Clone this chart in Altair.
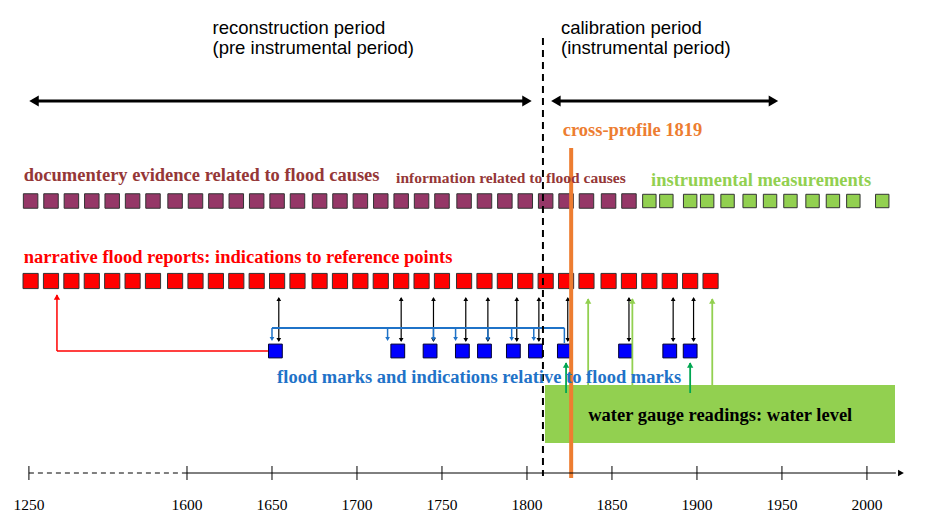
import pandas as pd
import altair as alt

# x in years (1250 is drawn at a compressed position), y in layout units from the top
X0, X1 = 1494.7, 2041.8
SERIF = "Liberation Serif"
SANS = "Liberation Sans"

purple_years = [1508, 1520, 1532, 1544, 1556, 1568, 1580, 1593, 1605, 1617, 1629, 1641, 1653, 1665, 1678,
                1690, 1702, 1714, 1726, 1738, 1750, 1763, 1775, 1787, 1799, 1811, 1823, 1835, 1848, 1860]
green_years = [1872, 1882, 1896, 1906, 1918, 1931, 1943, 1955, 1968, 1980, 1992, 2009]
red_years = purple_years + [1872, 1884, 1896, 1908]
blue_years = [1652, 1724, 1743, 1762, 1775, 1792, 1805, 1822, 1858, 1884, 1896]
blue_heads = [1650, 1718, 1745, 1758, 1777, 1791, 1804]
light_green_arrows = [1836, 1862, 1909]
dark_green_arrows = [1823, 1896]
tick_years = [1507, 1600, 1650, 1700, 1750, 1800, 1850, 1900, 1950, 2000]
tick_labels = ["1250", "1600", "1650", "1700", "1750", "1800", "1850", "1900", "1950", "2000"]

ROW_PURPLE, ROW_RED, ROW_BLUE = 193, 273, 343
AXIS_Y = 465

xs = alt.Scale(domain=[X0, X1])
ys = alt.Scale(domain=[509, 0])
X = lambda f="x": alt.X(f"{f}:Q", scale=xs, axis=None)
Y = lambda f="y": alt.Y(f"{f}:Q", scale=ys, axis=None)


def squares(years, row, fill, stroke, size):
    df = pd.DataFrame({"x": years, "y": row})
    return alt.Chart(df).mark_square(size=size, filled=True, color=fill, stroke=stroke,
                                     strokeWidth=1, opacity=1).encode(x=X(), y=Y())


def rules(rows, color, width=1.5, dash=None):
    df = pd.DataFrame(rows, columns=["x", "x2", "y", "y2"])
    kw = dict(color=color, strokeWidth=width)
    if dash:
        kw["strokeDash"] = dash
    return alt.Chart(df).mark_rule(**kw).encode(x=X(), x2="x2:Q", y=Y(), y2="y2:Q")


def heads(rows, shape, color, size):
    df = pd.DataFrame(rows, columns=["x", "y"])
    return alt.Chart(df).mark_point(shape=shape, filled=True, color=color, size=size,
                                    opacity=1).encode(x=X(), y=Y())


def label(rows, color, size, font=SERIF, bold=True):
    df = pd.DataFrame(rows, columns=["x", "y", "t"])
    return alt.Chart(df).mark_text(align="left", baseline="middle", color=color, fontSize=size,
                                   font=font, fontWeight="bold" if bold else "normal").encode(
        x=X(), y=Y(), text="t:N")


layers = []
# green gauge box
box = pd.DataFrame({"x": [1810.6], "x2": [2016.5], "y": [377], "y2": [435]})
layers.append(alt.Chart(box).mark_rect(color="#92d050").encode(x=X(), x2="x2:Q", y=Y(), y2="y2:Q"))

# period arrows
layers.append(rules([(1510, 1800, 93, 93), (1817, 1945, 93, 93)], "black", 3))
layers.append(heads([(1510, 93), (1817, 93)], "triangle-left", "black", 120))
layers.append(heads([(1800, 93), (1945, 93)], "triangle-right", "black", 120))

# squares rows
layers.append(squares(purple_years, ROW_PURPLE, "#953767", "#333333", 210))
layers.append(squares(green_years, ROW_PURPLE, "#92d050", "#333333", 180))
layers.append(squares(red_years, ROW_RED, "#ff0000", "#333333", 230))

# black double arrows between red and blue rows
layers.append(rules([(v + 2, v + 2, ROW_RED + 17, ROW_BLUE - 10) for v in blue_years], "black", 1.2))
layers.append(heads([(v + 2, ROW_RED + 18) for v in blue_years], "triangle-up", "black", 22))
layers.append(heads([(v + 2, ROW_BLUE - 11) for v in blue_years], "triangle-down", "black", 22))

# blue bracket line with heads
layers.append(rules([(1650, 1822, 320, 320)], "#1f73c8", 1.8))
layers.append(rules([(v, v, 320, ROW_BLUE - 12) for v in blue_heads], "#1f73c8", 1.5))
layers.append(rules([(1822, 1822, 320, ROW_BLUE - 8)], "#1f73c8", 1.5))
layers.append(heads([(v, ROW_BLUE - 12) for v in blue_heads], "triangle-down", "#1f73c8", 22))

# red L-shaped arrow
layers.append(rules([(1523.5, 1647.6, ROW_BLUE, ROW_BLUE), (1523.5, 1523.5, ROW_BLUE, ROW_RED + 14)], "red", 1.5))
layers.append(heads([(1523.5, ROW_RED + 16)], "triangle-up", "red", 40))

layers.append(squares(blue_years, ROW_BLUE, "#0000ff", "#000033", 190))

# green arrows from gauge box
layers.append(rules([(v, v, 377, ROW_RED + 18) for v in light_green_arrows], "#92d050", 1.8))
layers.append(heads([(v, ROW_RED + 20) for v in light_green_arrows], "triangle-up", "#92d050", 40))
layers.append(rules([(v, v, 385, ROW_BLUE + 12) for v in dark_green_arrows], "#00a651", 1.8))
layers.append(heads([(v, ROW_BLUE + 14) for v in dark_green_arrows], "triangle-up", "#00a651", 40))

# period divider and cross-profile
layers.append(rules([(1809.4, 1809.4, 30, 468)], "black", 2, [7, 5]))
layers.append(rules([(1826, 1826, 140, 470)], "#ed7d31", 4))

# bottom time axis
layers.append(rules([(1507, 1600, AXIS_Y, AXIS_Y)], "black", 1, [5, 4]))
layers.append(rules([(1600, 2017, AXIS_Y, AXIS_Y)], "black", 1))
layers.append(heads([(2020, AXIS_Y)], "triangle-right", "black", 45))
layers.append(rules([(v, v, AXIS_Y - 7, AXIS_Y + 7) for v in tick_years], "black", 1))
ticks = pd.DataFrame({"x": tick_years, "y": 497, "t": tick_labels})
layers.append(alt.Chart(ticks).mark_text(align="center", baseline="middle", fontSize=15.5, font=SERIF).encode(
    x=X(), y=Y(), text="t:N"))

# texts
layers.append(label([(1615, 20, "reconstruction period"), (1615, 40, "(pre instrumental period)")],
                    "black", 18.5, SANS, False))
layers.append(label([(1820, 20, "calibration period"), (1820, 40, "(instrumental period)")],
                    "black", 18.5, SANS, False))
layers.append(label([(1821, 122, "cross-profile 1819")], "#ed7d31", 18.5))
layers.append(label([(1504, 167, "documentery evidence related to flood causes")], "#953737", 18.5))
layers.append(label([(1723, 170, "information related to flood causes")], "#953737", 15.5))
layers.append(label([(1873, 172, "instrumental measurements")], "#92d050", 18.5))
layers.append(label([(1504, 249, "narrative flood reports: indications to reference points")], "#ff0000", 18.5))
layers.append(label([(1653, 369, "flood marks and indications relative to flood marks")], "#1f73c8", 18.5))
layers.append(label([(1836, 407, "water gauge readings: water level")], "black", 18.5))

chart = alt.layer(*layers).properties(width=930, height=509, padding=0, autosize="none").configure_view(
    stroke=None)
chart.save("out.html", embed_options={"renderer": "svg", "actions": False})
